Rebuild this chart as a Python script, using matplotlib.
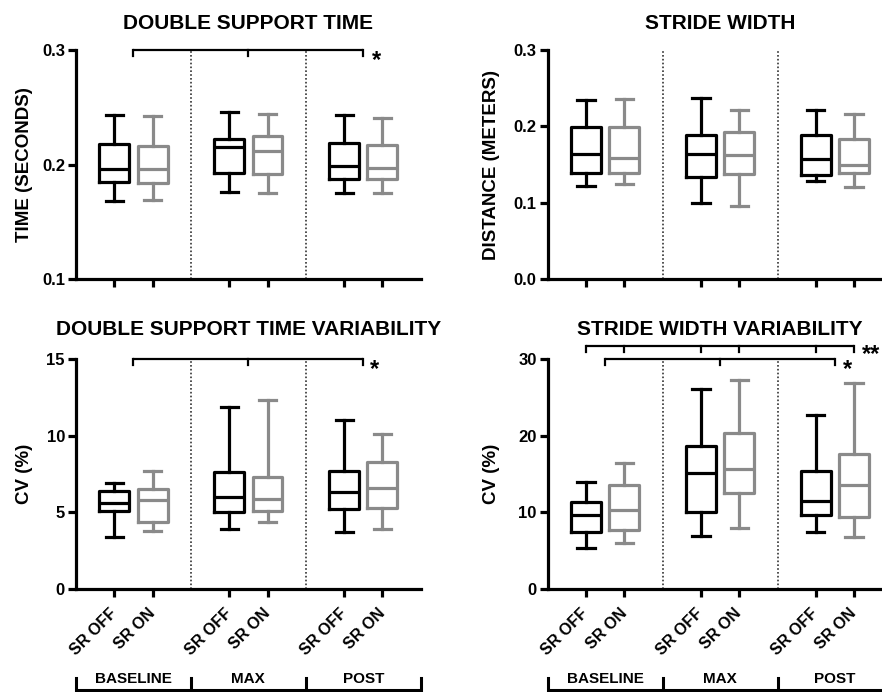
import matplotlib.pyplot as plt
from matplotlib.transforms import blended_transform_factory

plt.rcParams['font.family'] = ['Liberation Sans', 'DejaVu Sans']
plt.rcParams['font.weight'] = 'bold'
plt.rcParams['axes.titleweight'] = 'bold'
plt.rcParams['axes.labelweight'] = 'bold'

conditions = ['SR OFF', 'SR ON', 'SR OFF', 'SR ON', 'SR OFF', 'SR ON']
groups = ['BASELINE', 'MAX', 'POST']
positions = [1, 2, 4, 5, 7, 8]
group_centres = [1.5, 4.5, 7.5]
group_edges = [0, 3, 6, 9]
box_colors = ['black', '#8a8a8a', 'black', '#8a8a8a', 'black', '#8a8a8a']

# every box: whisker low, Q1, median, Q3, whisker high
# double support time (seconds)
dst_low = [0.168, 0.169, 0.176, 0.175, 0.175, 0.175]
dst_q1 = [0.185, 0.184, 0.193, 0.192, 0.187, 0.187]
dst_med = [0.196, 0.196, 0.215, 0.212, 0.199, 0.197]
dst_q3 = [0.218, 0.216, 0.222, 0.225, 0.219, 0.217]
dst_high = [0.243, 0.242, 0.246, 0.244, 0.243, 0.241]

# stride width (meters)
sw_low = [0.122, 0.125, 0.099, 0.096, 0.128, 0.121]
sw_q1 = [0.139, 0.139, 0.134, 0.138, 0.136, 0.139]
sw_med = [0.164, 0.158, 0.164, 0.163, 0.157, 0.149]
sw_q3 = [0.199, 0.199, 0.189, 0.192, 0.189, 0.184]
sw_high = [0.234, 0.236, 0.237, 0.221, 0.221, 0.216]

# double support time variability (CV %)
dstv_low = [3.4, 3.8, 3.9, 4.4, 3.7, 3.9]
dstv_q1 = [5.1, 4.4, 5.0, 5.1, 5.2, 5.3]
dstv_med = [5.6, 5.8, 6.0, 5.9, 6.3, 6.6]
dstv_q3 = [6.4, 6.5, 7.6, 7.3, 7.7, 8.3]
dstv_high = [6.9, 7.7, 11.9, 12.3, 11.0, 10.1]

# stride width variability (CV %)
swv_low = [5.3, 6.0, 6.9, 7.9, 7.4, 6.8]
swv_q1 = [7.4, 7.7, 10.0, 12.5, 9.6, 9.4]
swv_med = [9.6, 10.3, 15.1, 15.6, 11.5, 13.6]
swv_q3 = [11.4, 13.6, 18.6, 20.3, 15.4, 17.6]
swv_high = [14.0, 16.4, 26.1, 27.3, 22.7, 26.9]


def draw_panel(ax, low, q1, med, q3, high, title, ylabel, ylim, yticks, yticklabels, pad):
	for i in range(len(positions)):
		stat = dict(whislo=low[i], q1=q1[i], med=med[i], q3=q3[i], whishi=high[i], fliers=[])
		c = box_colors[i]
		props = dict(color=c, linewidth=2.3)
		ax.bxp([stat], positions=[positions[i]], widths=0.78, capwidths=0.45,
		       showfliers=False, manage_ticks=False,
		       boxprops=props, whiskerprops=props, capprops=props,
		       medianprops=dict(color=c, linewidth=2.3))

	for x in [3, 6]:
		ax.axvline(x, color='#333333', linewidth=1.2, linestyle=(0, (1, 1.3)))

	ax.set_xlim(0, 9)
	ax.set_ylim(*ylim)
	ax.set_yticks(yticks)
	ax.set_yticklabels(yticklabels)
	ax.set_xticks(positions)
	ax.set_xticklabels([])
	ax.spines['top'].set_visible(False)
	ax.spines['right'].set_visible(False)
	ax.spines['left'].set_linewidth(2.3)
	ax.spines['bottom'].set_linewidth(2.3)
	ax.tick_params(width=2.3, length=6, labelsize=12, pad=2)
	ax.set_ylabel(ylabel, fontsize=13.5)
	ax.set_title(title, fontsize=15, pad=pad)


def bracket(ax, xs, y, drop, star, star_x, star_dy):
	ax.plot([xs[0], xs[-1]], [y, y], color='black', linewidth=1.6, clip_on=False,
	        solid_capstyle='butt')
	for x in xs:
		ax.plot([x, x], [y, y - drop], color='black', linewidth=1.6, clip_on=False)
	ax.annotate(star, xy=(star_x, y), xytext=(0, star_dy), textcoords='offset points',
	            ha='center', va='baseline', fontsize=17, annotation_clip=False)


def group_labels(ax):
	ax.set_xticklabels(conditions, rotation=45, ha='right', va='center',
	                   rotation_mode='anchor', fontsize=11.5)
	ax.tick_params(axis='x', pad=10)
	trans = blended_transform_factory(ax.transData, ax.transAxes)
	ax.plot([group_edges[0], group_edges[-1]], [-0.441, -0.441], color='black',
	        linewidth=2.2, transform=trans, clip_on=False, solid_capstyle='butt')
	for x in group_edges:
		ax.plot([x, x], [-0.441, -0.385], color='black', linewidth=2.2,
		        transform=trans, clip_on=False)
	for x, g in zip(group_centres, groups):
		ax.text(x, -0.393, g, transform=trans, ha='center', va='center', fontsize=11)


fig = plt.figure(figsize=(8.82, 6.92), dpi=100)
ax1 = fig.add_axes([0.0862, 0.5968, 0.3908, 0.3309])
ax2 = fig.add_axes([0.621, 0.5968, 0.3908, 0.3309])
ax3 = fig.add_axes([0.0862, 0.1488, 0.3908, 0.3324])
ax4 = fig.add_axes([0.621, 0.1488, 0.3908, 0.3324])

draw_panel(ax1, dst_low, dst_q1, dst_med, dst_q3, dst_high, 'DOUBLE SUPPORT TIME',
           'TIME (SECONDS)', (0.1, 0.3), [0.1, 0.2, 0.3], ['0.1', '0.2', '0.3'], 15)
draw_panel(ax2, sw_low, sw_q1, sw_med, sw_q3, sw_high, 'STRIDE WIDTH',
           'DISTANCE (METERS)', (0.0, 0.3), [0.0, 0.1, 0.2, 0.3],
           ['0.0', '0.1', '0.2', '0.3'], 15)
draw_panel(ax3, dstv_low, dstv_q1, dstv_med, dstv_q3, dstv_high,
           'DOUBLE SUPPORT TIME VARIABILITY', 'CV (%)', (0, 15), [0, 5, 10, 15],
           ['0', '5', '10', '15'], 17)
draw_panel(ax4, swv_low, swv_q1, swv_med, swv_q3, swv_high,
           'STRIDE WIDTH VARIABILITY', 'CV (%)', (0, 30), [0, 10, 20, 30],
           ['0', '10', '20', '30'], 17)

for ax in [ax1, ax3]:
	ax.yaxis.set_label_coords(-0.125, 0.5)
for ax in [ax2, ax4]:
	ax.yaxis.set_label_coords(-0.138, 0.5)

bracket(ax1, [1.5, 4.5, 7.5], 0.3, 0.005, '*', 7.85, -12.5)
bracket(ax3, [1.5, 4.5, 7.5], 15, 0.4, '*', 7.8, -12.5)
bracket(ax4, [1, 2, 4, 5, 7, 8], 31.7, 0.8, '**', 8.45, -10.5)
bracket(ax4, [1.5, 4.5, 7.5], 30, 0.8, '*', 7.83, -12.5)

group_labels(ax3)
group_labels(ax4)

fig.savefig('out.png', dpi=100)
